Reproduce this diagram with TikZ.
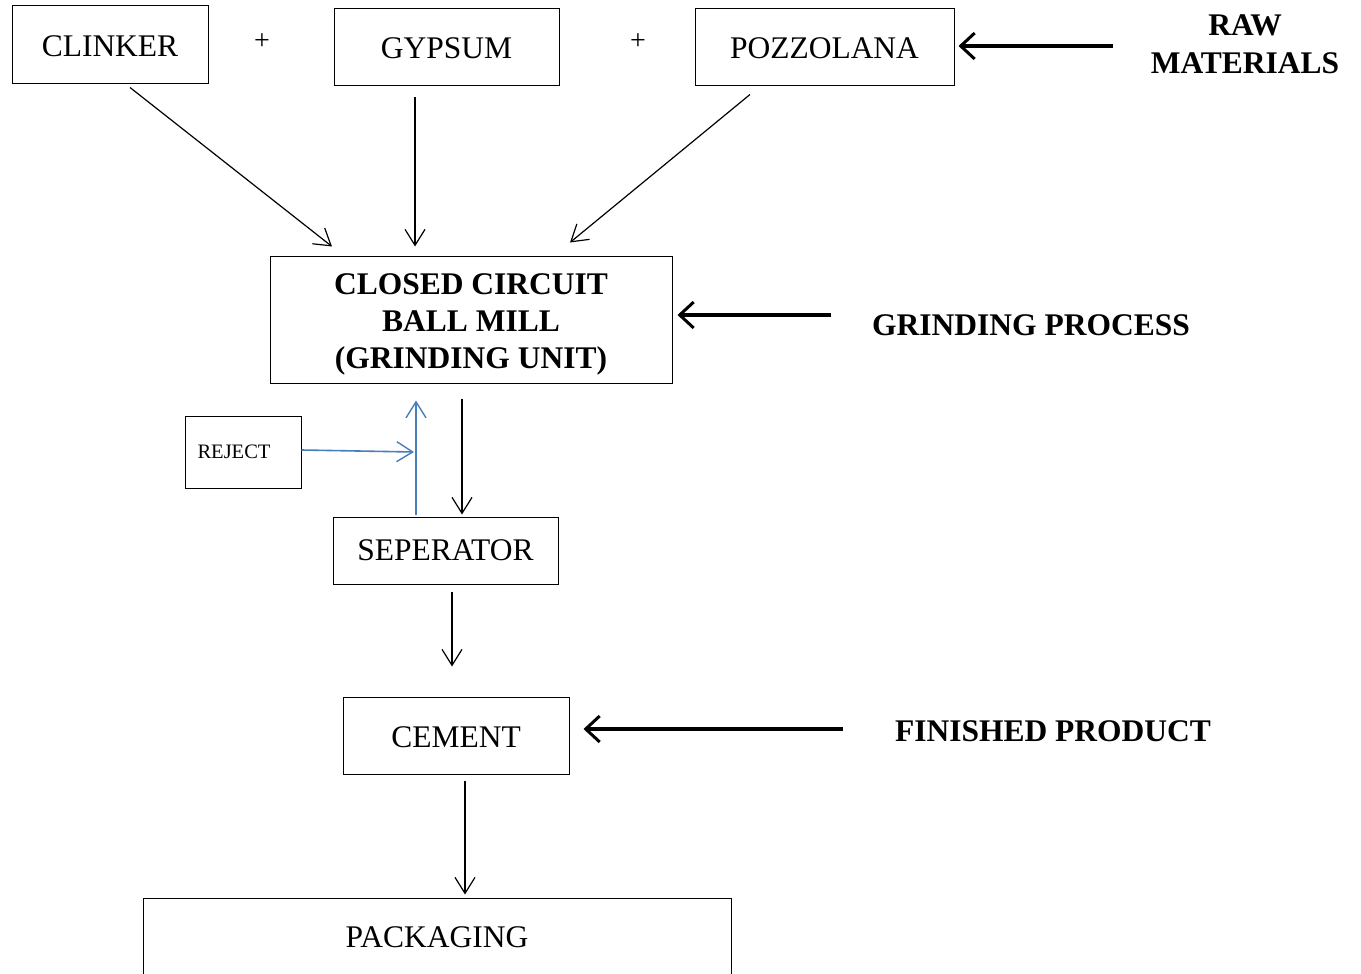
\documentclass[tikz,border=0pt]{standalone}
\usepackage{fontspec}
\setmainfont{Liberation Serif}
\usetikzlibrary{arrows.meta,calc}
\definecolor{wordblue}{RGB}{74,126,187}
\begin{document}
\begin{tikzpicture}[x=1pt,y=-1pt,
  box/.style={draw=black,line width=1pt,inner sep=0pt,
    font=\fontsize{31.5}{37}\selectfont},
  lbl/.style={font=\fontsize{31.5}{38}\selectfont\bfseries,align=center,inner sep=0pt},
  arr/.style={draw=black,line width=1.2pt,-{Straight Barb[length=16pt,width=20pt,line width=1.2pt]}},
  barr/.style={draw=wordblue,line width=1.6pt,-{Straight Barb[length=16pt,width=20pt,line width=1.4pt]}},
  tarr/.style={draw=black,line width=3.5pt,-{Straight Barb[length=14pt,width=26pt,line width=3pt]}}]
\clip (0,0) rectangle (1361,974);
\fill[white] (0,0) rectangle (1361,974);

% raw materials
\node[box,minimum width=196,minimum height=78] (clinker) at (110,45) {};
\node[font=\fontsize{31.5}{37}\selectfont,inner sep=0pt] (clinkertxt) at (110,46.5) {CLINKER};
\node[box,minimum width=225,minimum height=77] (gypsum) at (446.5,47.5) {};
\node[font=\fontsize{31.5}{37}\selectfont,inner sep=0pt] (gypsumtxt) at (446.5,48.5) {GYPSUM};
\node[box,minimum width=259,minimum height=77] (pozz) at (824.5,47.5) {};
\node[font=\fontsize{31.5}{37}\selectfont,inner sep=0pt] (pozztxt) at (824.5,48.5) {POZZOLANA};
\node[font=\fontsize{28}{30}\selectfont,inner sep=0pt] (plus1) at (262,42) {+};
\node[font=\fontsize{28}{30}\selectfont,inner sep=0pt] (plus2) at (638,42) {+};
\node[lbl] (raw) at (1245,44) {RAW\\MATERIALS};
\coordinate (rawstart) at (1113,46);

% grinding
\node[box,minimum width=402,minimum height=127] (mill) at (471,319.5) {};
\node[align=center,inner sep=0pt,font=\fontsize{31.5}{37}\selectfont\bfseries] (milltxt) at (471,324) {CLOSED CIRCUIT\\BALL MILL\\(GRINDING UNIT)};
\node[lbl] (grind) at (1031,325) {GRINDING PROCESS};
\coordinate (grindstart) at (831,315);

\node[box,minimum width=116,minimum height=72,font=\fontsize{20.5}{24}\selectfont] (reject) at (243,452) {\hspace*{-18pt}REJECT};
\node[box,minimum width=225,minimum height=67] (sep) at (445.5,550.5) {SEPERATOR};
\node[box,minimum width=226,minimum height=77] (cement) at (456,735.5) {};
\node[font=\fontsize{31.5}{37}\selectfont,inner sep=0pt] (cementtxt) at (456,737) {CEMENT};
\node[lbl] (fin) at (1053,731) {FINISHED PRODUCT};
\coordinate (finstart) at (843,729);
\node[box,minimum width=588,minimum height=102] (pack) at (437,949) {};
\node[font=\fontsize{31.5}{37}\selectfont,inner sep=0pt] (packtxt) at (437,937) {PACKAGING};

% connectors
\draw[arr] ([xshift=20pt,yshift=-3pt]clinker.south) -- ([xshift=-139pt,yshift=9pt]mill.north);
\draw[arr] ([xshift=-31.5pt,yshift=-11pt]gypsum.south) -- ([xshift=-56pt,yshift=9pt]mill.north);
\draw[arr] ([xshift=-74.5pt,yshift=-8pt]pozz.south) -- ([xshift=99pt,yshift=13pt]mill.north);
\draw[tarr] (rawstart) -- ([xshift=4pt,yshift=1.5pt]pozz.east);
\draw[tarr] (grindstart) -- ([xshift=5pt,yshift=4.5pt]mill.east);
\draw[arr] ([xshift=-9pt,yshift=-15pt]mill.south) -- ([xshift=16.5pt,yshift=2pt]sep.north);
\coordinate (bluebot) at ([xshift=-29.5pt,yshift=2pt]sep.north);
\draw[barr] (bluebot) -- ([xshift=-55pt,yshift=-17pt]mill.south);
\draw[barr] ([yshift=2pt]reject.east) -- ([xshift=-2pt]reject.east -| bluebot);
\draw[arr] ([xshift=6.5pt,yshift=-7pt]sep.south) -- ([xshift=-4pt,yshift=30pt]cement.north);
\draw[tarr] (finstart) -- ([xshift=14pt,yshift=6.5pt]cement.east);
\draw[arr] ([xshift=9pt,yshift=-6pt]cement.south) -- ([xshift=28pt,yshift=3pt]pack.north);
\end{tikzpicture}
\end{document}
